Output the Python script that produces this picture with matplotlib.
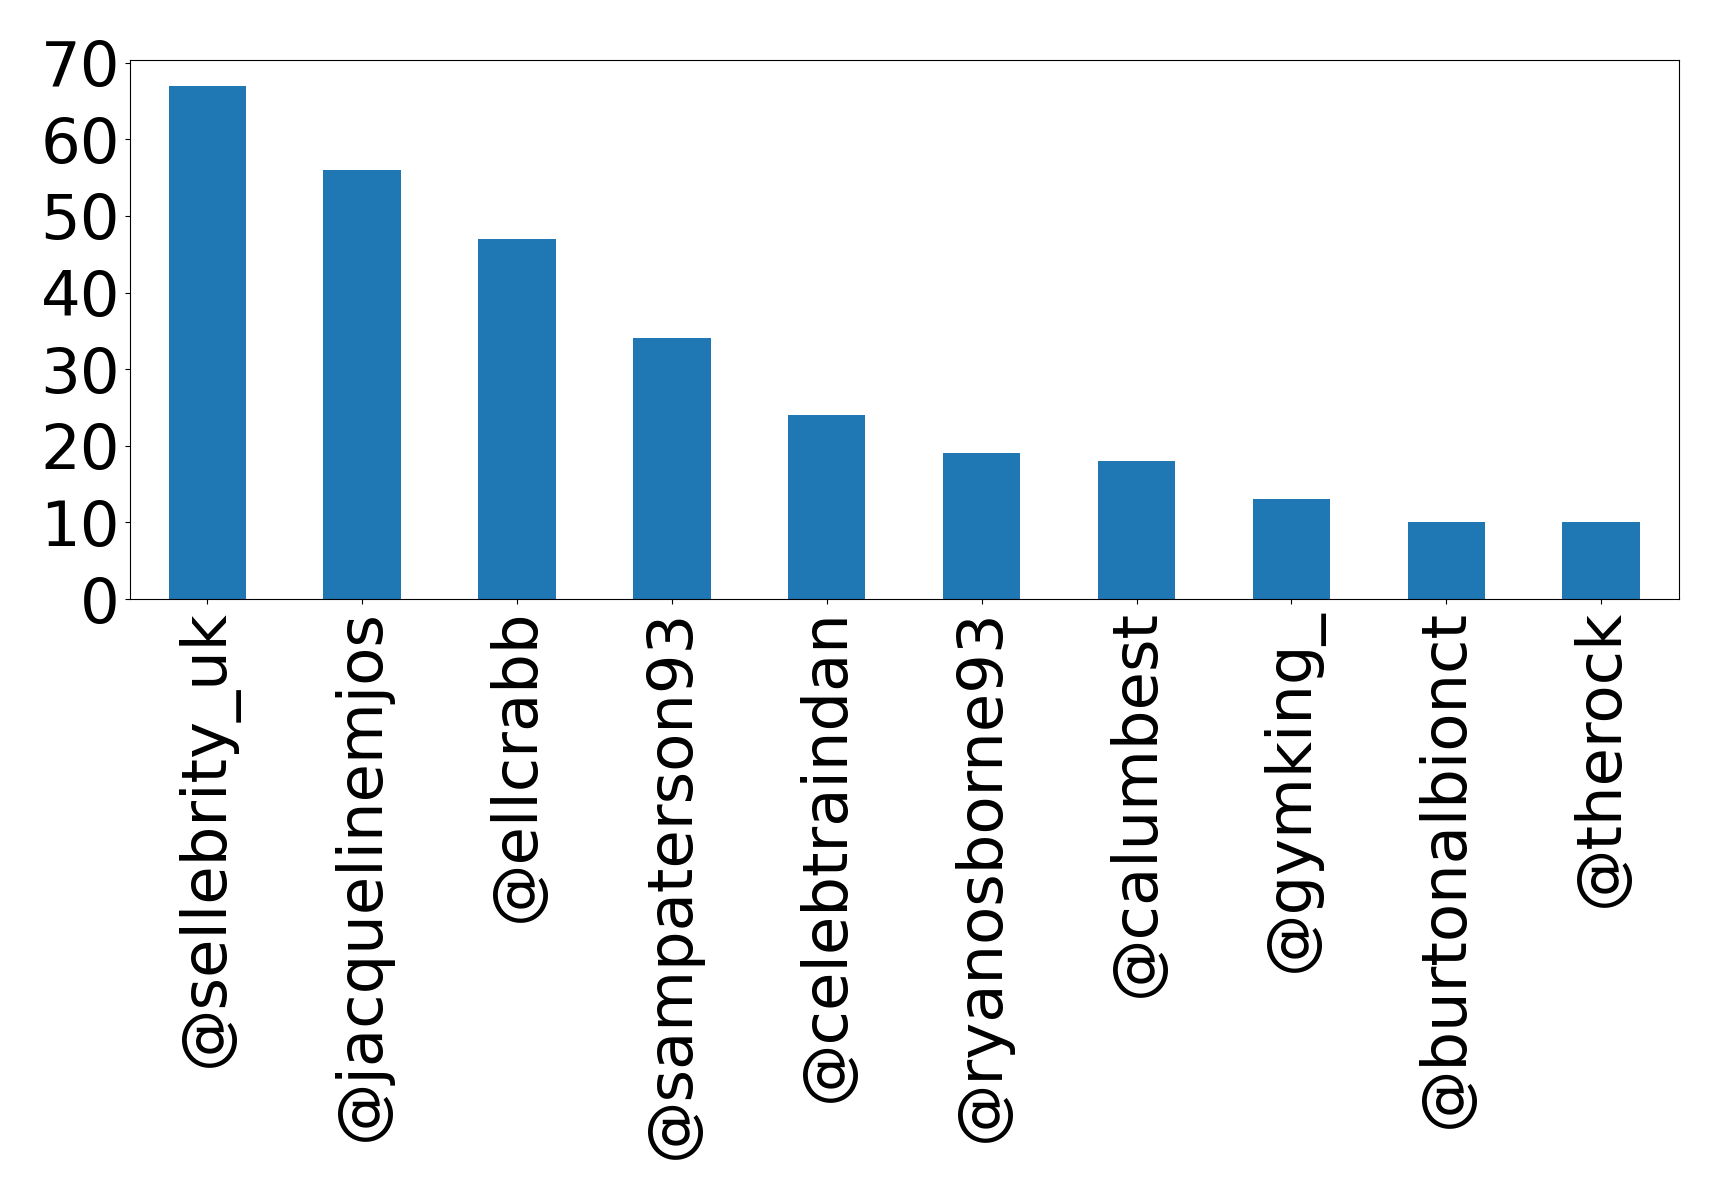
import matplotlib
matplotlib.use("Agg")
import matplotlib.pyplot as plt
import pandas as pd

# mentions per account
accounts = ["@sellebrity_uk", "@jacquelinemjos", "@ellcrabb", "@sampaterson93",
            "@celebtraindan", "@ryanosborne93", "@calumbest", "@gymking_",
            "@burtonalbionct", "@therock"]
counts = [67, 56, 47, 34, 24, 19, 18, 13, 10, 10]
yticks = [0, 10, 20, 30, 40, 50, 60, 70]

s = pd.Series(counts, index=accounts)

fig, ax = plt.subplots(figsize=(17.19, 11.99), dpi=100)
s.plot(kind="bar", ax=ax, color="#1f77b4")
ax.set_yticks(yticks)
ax.tick_params(axis="both", labelsize=45)
plt.subplots_adjust(left=0.0755, right=0.9765, top=0.95, bottom=0.5004)
fig.savefig("out.png", dpi=100)
